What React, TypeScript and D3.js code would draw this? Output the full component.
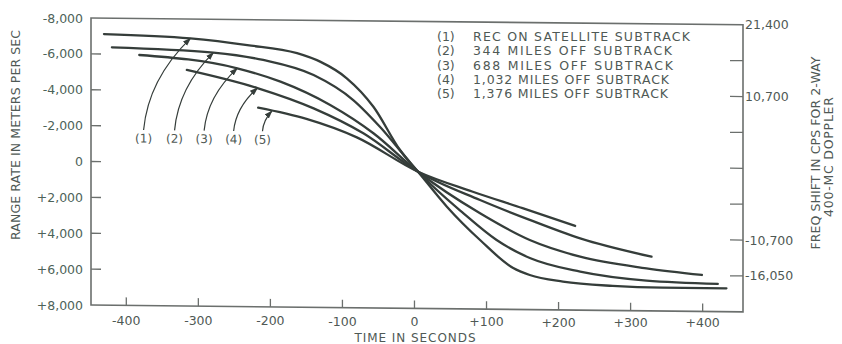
import React from 'react';
import * as d3 from 'd3';

const W = 842;
const H = 344;

const timeTicks = [-400, -300, -200, -100, 0, 100, 200, 300, 400];
const timeTickLabels = ['-400', '-300', '-200', '-100', '0', '+100', '+200', '+300', '+400'];
const rateTicks = [-8000, -6000, -4000, -2000, 0, 2000, 4000, 6000, 8000];
const rateTickLabels = ['-8,000', '-6,000', '-4,000', '-2,000', '0', '+2,000', '+4,000', '+6,000', '+8,000'];
const freqTickRates = [-6000, -4000, -2000, 0, 2000, 4000, 6000];
const freqLabelRates = [-8000, -4000, 4000, 6000];
const freqLabels = ['21,400', '10,700', '-10,700', '-16,050'];

const legendNums = ['(1)', '(2)', '(3)', '(4)', '(5)'];
const legendTexts = [
  'REC ON SATELLITE SUBTRACK',
  '344 MILES OFF SUBTRACK',
  '688 MILES OFF SUBTRACK',
  '1,032 MILES OFF SUBTRACK',
  '1,376 MILES OFF SUBTRACK',
];
const legendWidths = [217, 199, 200, 196, 195];

// series: time (s) and range rate (m/s)
const c1T = [-431, -311, -232, -163, -131, -94, -57, -20, 5, 45, 91, 137, 160, 206, 275, 344, 433];
const c1V = [-7110, -6920, -6580, -6160, -5700, -4790, -3220, -820, 380, 2310, 4150, 5690, 6070, 6420, 6630, 6700, 6700];
const c2T = [-420, -279, -210, -140, -85, -48, 5, 68, 114, 161, 230, 322, 421];
const c2V = [-6380, -6140, -5760, -4950, -3580, -2110, 380, 2670, 4140, 5140, 5860, 6320, 6460];
const c3T = [-382, -246, -186, -117, -57, 5, 91, 160, 230, 322, 399];
const c3V = [-5965, -5280, -4560, -3290, -1740, 380, 2660, 4120, 5020, 5630, 5970];
const c4T = [-316, -218, -140, -71, 5, 91, 160, 230, 329];
const c4V = [-5160, -4190, -3090, -1730, 380, 1920, 3000, 4000, 4980];
const c5T = [-217, -150, -80, 5, 80, 150, 223];
const c5V = [-3100, -2500, -1500, 380, 1450, 2350, 3310];

const seriesT = [c1T, c2T, c3T, c4T, c5T];
const seriesV = [c1V, c2V, c3V, c4V, c5V];

// callout labels (1)..(5): label position and arrow target, in data units
const calloutLabelT = [-376, -333, -292, -251, -211];
const calloutLabelV = -1340;
const calloutTargetT = [-311, -279, -246, -218, -198];
const calloutTargetV = [-6924, -6138, -5280, -4192, -2920];

const INK = '#353d3a';
const TEXT = '#4f5955';
const FONT = 'DejaVu Sans, sans-serif';
const SKEW = 0.6;
const K = Math.tan((SKEW * Math.PI) / 180);

export default function App() {
  const x = d3.scaleLinear().domain([-449, 456]).range([91, 743]);
  const y = d3.scaleLinear().domain([-8000, 8000]).range([18, 305]);
  const [x0, x1] = x.range();
  const [y0, y1] = y.range();
  const shear = (px: number) => (px - x0) * K;

  const line = d3
    .line<[number, number]>()
    .x((d) => x(d[0]))
    .y((d) => y(d[1]))
    .curve(d3.curveMonotoneX);

  const callouts = calloutLabelT.map((t, i) => {
    const sx = x(t);
    const sy = y(calloutLabelV) - 8;
    const ex = x(calloutTargetT[i]);
    const ey = y(calloutTargetV[i]);
    const cx = sx + (ex - sx) * 0.1;
    const cy = ey + (sy - ey) * 0.45;
    return `M${sx},${sy}Q${cx},${cy} ${ex},${ey}`;
  });

  return (
    <svg
      width={W}
      height={H}
      viewBox={`0 0 ${W} ${H}`}
      style={{ position: 'absolute', left: 0, top: 0, background: '#fff' }}
      fontFamily={FONT}
    >
      <defs>
        <marker id="arr" viewBox="0 0 10 10" refX="9" refY="5" markerWidth="7" markerHeight="7" orient="auto">
          <path d="M0,1.5L10,5L0,8.5Z" fill={INK} />
        </marker>
      </defs>
      <g transform={`translate(${x0},0) skewY(${SKEW}) translate(${-x0},0)`}>
        <rect x={x0} y={y0} width={x1 - x0} height={y1 - y0} fill="none" stroke="#6b6f6d" strokeWidth={1.6} />
        {rateTicks.slice(1, -1).map((v) => (
          <line key={'l' + v} x1={x0} x2={x0 + 10} y1={y(v)} y2={y(v)} stroke="#6b6f6d" strokeWidth={1.3} />
        ))}
        {freqTickRates.map((v) => (
          <line key={'r' + v} x1={x1 - 13} x2={x1} y1={y(v)} y2={y(v)} stroke="#6b6f6d" strokeWidth={1.3} />
        ))}
        {timeTicks.map((t) => (
          <line key={'b' + t} x1={x(t)} x2={x(t)} y1={y1} y2={y1 - 8} stroke="#6b6f6d" strokeWidth={1.3} />
        ))}
        {seriesT.map((ts, i) => (
          <path
            key={'c' + i}
            d={line(ts.map((t, j) => [t, seriesV[i][j]]) as [number, number][]) || ''}
            fill="none"
            stroke={INK}
            strokeWidth={2.3}
            strokeLinecap="round"
          />
        ))}
        {callouts.map((d, i) => (
          <path key={'a' + i} d={d} fill="none" stroke={INK} strokeWidth={1.2} markerEnd="url(#arr)" />
        ))}
        {legendNums.map((n, i) => (
          <text key={'cl' + i} x={x(calloutLabelT[i])} y={y(calloutLabelV) + 4.5} textAnchor="middle" fontSize={12} fill={TEXT}>
            {n}
          </text>
        ))}
      </g>

      {rateTicks.map((v, i) => (
        <text key={'lt' + v} x={83} y={y(v) + 4.5} textAnchor="end" fontSize={12.5} fill="#4d6359">
          {rateTickLabels[i]}
        </text>
      ))}
      {freqLabelRates.map((v, i) => (
        <text key={'rt' + v} x={745} y={y(v) + shear(x1) + 4.5} textAnchor="start" fontSize={12.5} fill={TEXT}>
          {freqLabels[i]}
        </text>
      ))}
      {timeTicks.map((t, i) => (
        <text key={'bt' + t} x={x(t)} y={324.5 + (x(t) - 126) * 0.0052} textAnchor="middle" fontSize={12.5} fill={TEXT}>
          {timeTickLabels[i]}
        </text>
      ))}

      <text x={415} y={341.5} textAnchor="middle" fontSize={12} fill={TEXT} textLength={121} lengthAdjust="spacing">
        TIME IN SECONDS
      </text>
      <text
        transform="translate(19.5,135) rotate(-90)"
        textAnchor="middle"
        fontSize={12.5}
        fill={TEXT}
        textLength={210}
        lengthAdjust="spacing"
      >
        RANGE RATE IN METERS PER SEC
      </text>
      <text
        transform="translate(819.5,153) rotate(-90)"
        textAnchor="middle"
        fontSize={12.5}
        fill={TEXT}
        textLength={193}
        lengthAdjust="spacing"
      >
        FREQ SHIFT IN CPS FOR 2-WAY
      </text>
      <text
        transform="translate(832.5,157) rotate(-90)"
        textAnchor="middle"
        fontSize={12.5}
        fill={TEXT}
        textLength={120}
        lengthAdjust="spacing"
      >
        400-MC DOPPLER
      </text>

      {legendTexts.map((s, i) => (
        <g key={'lg' + i}>
          <text x={437} y={41 + i * 14.25} fontSize={12.5} fill={TEXT}>
            {legendNums[i]}
          </text>
          <text x={473} y={41 + i * 14.25} fontSize={12.5} fill={TEXT} textLength={legendWidths[i]} lengthAdjust="spacing">
            {s}
          </text>
        </g>
      ))}
    </svg>
  );
}
